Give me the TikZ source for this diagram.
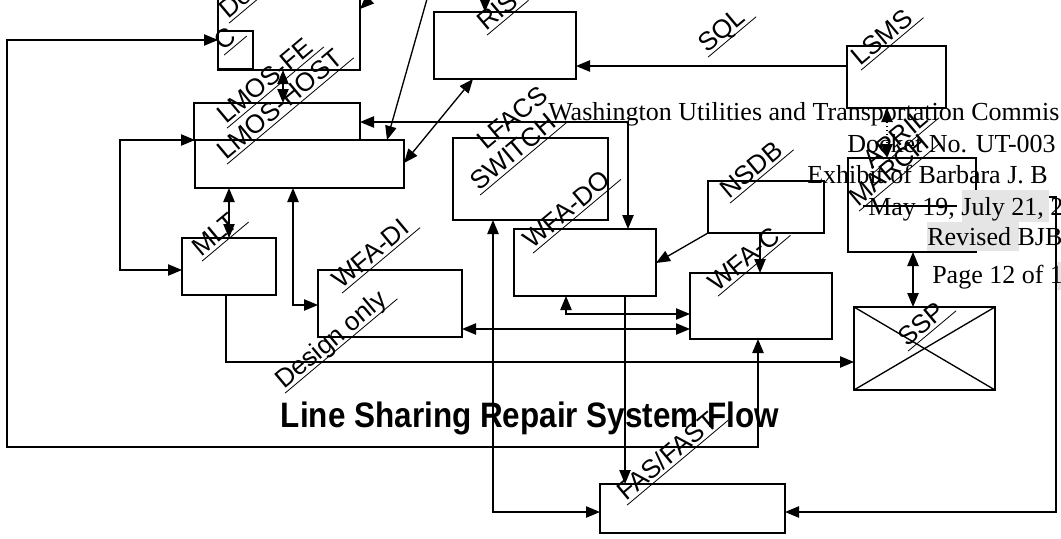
\documentclass[tikz,border=0pt]{standalone}
\usepackage{fontspec}
\usepackage{graphicx}
\setmainfont{Liberation Serif}
\setsansfont{Liberation Sans}
\usetikzlibrary{arrows.meta,fit}
\newcommand\ulbl[1]{\setbox0=\hbox{#1}\rlap{\kern-1pt\rule[-2.6pt]{\dimexpr\wd0+8pt\relax}{0.6pt}}\box0}
\tikzset{
 box/.style={draw, line width=1pt, inner sep=0pt, outer sep=0pt},
 ln/.style={line width=1pt},
 arr/.style={ln, -{Triangle[length=10.5pt,width=8.5pt]}},
 darr/.style={ln, {Triangle[length=10.5pt,width=8.5pt]}-{Triangle[length=10.5pt,width=8.5pt]}},
 lab/.style={font=\sffamily\fontsize{19.5}{22}\selectfont, rotate=40, anchor=base west, inner sep=0pt},
 hdr/.style={font=\fontsize{19.5}{23}\selectfont, anchor=base west, inner sep=0pt},
 hl/.style={fill=black!10},
}
\begin{document}
\begin{tikzpicture}[x=0.75pt,y=-0.75pt]
\useasboundingbox (0,0) rectangle (1061,539);
\clip (0,0) rectangle (1061,539);
% ---------- boxes ----------
\node[box, fit={(218,-40) (360,70)}] (top) {};
\node[box, fit={(218,31) (253,69)}] (cbox) {};
\node[box, fit={(194,103) (360,140)}] (lmosfe) {};
\node[box, fit={(195,140) (404,188)}] (lmoshost) {};
\node[box, fit={(434,12) (576,79)}] (ris) {};
\node[box, fit={(847,46) (946,108)}] (lsms) {};
\node[box, fit={(848,158) (976,252)}] (march) {};
\node[box, fit={(453,138) (608,220)}] (lfacs) {};
\node[box, fit={(182,238) (276,295)}] (mlt) {};
\node[box, fit={(318,270) (462,337)}] (wfadi) {};
\node[box, fit={(514,229) (656,296)}] (wfado) {};
\node[box, fit={(708,181) (824,233)}] (nsdb) {};
\node[box, fit={(690,273) (832,339)}] (wfac) {};
\node[box, fit={(854,307) (995,390)}] (ssp) {};
\node[box, fit={(600,484) (785,533)}] (fas) {};
\draw[ln] (ssp.north west) -- (ssp.south east) (ssp.south west) -- (ssp.north east);
% ---------- free ends ----------
\coordinate (o1) at (395,-25);
\coordinate (o2) at (431,-15);
\coordinate (o3) at (485,-12);
% ---------- connectors ----------
\draw[darr] (758,0 |- wfac.south) -- (758,447) -- (7,447) -- (7,40) -- (cbox.west |- 0,40);
\draw[darr] (283,0 |- top.south) -- (283,0 |- lmosfe.north);
\draw[arr] (o1) -- (top.east |- 0,9);
\draw[arr] (o2) -- (387,0 |- lmoshost.north);
\draw[arr] (o3) -- (485,0 |- ris.north);
\draw[arr] (lsms.west |- 0,66) -- (ris.east |- 0,66);
\draw[darr,dotted] (887,0 |- lsms.south) -- (887,0 |- march.north);
\draw[darr] (913,0 |- march.south) -- (913,0 |- ssp.north);
\draw[arr] (march.east |- 0,197) -- (1056,197) -- (1056,512) -- (fas.east |- 0,512);
\draw[darr] (lmosfe.east |- 0,122) -- (628,122) -- (628,0 |- wfado.north);
\draw[darr] (473,0 |- ris.south) -- (lmoshost.east |- 0,163);
\draw[darr] (lmoshost.west |- 0,140) -- (120,140) -- (120,270) -- (mlt.west |- 0,270);
\draw[darr] (229,0 |- lmoshost.south) -- (229,0 |- mlt.north);
\draw[darr] (293,0 |- lmoshost.south) -- (293,305) -- (wfadi.west |- 0,305);
\draw[arr] (226,0 |- mlt.south) -- (226,362) -- (ssp.west |- 0,362);
\draw[darr] (wfadi.east |- 0,329) -- (wfac.west |- 0,329);
\draw[darr] (566,0 |- wfado.south) -- (566,314) -- (wfac.west |- 0,314);
\draw[arr] (nsdb.south west) -- (wfado.east |- 0,263);
\draw[arr] (760,0 |- nsdb.south) -- (760,0 |- wfac.north);
\draw[arr] (625,0 |- wfado.south) -- (625,0 |- fas.north);
\draw[darr] (493,0 |- lfacs.south) -- (493,512) -- (fas.west |- 0,512);
% ---------- labels ----------
\node[lab] (lDo) at (228,20) {\ulbl{Do}};
\node[lab] (lC) at (223,52) {\ulbl{C}};
\node[lab] (lFE) at (226,125) {\ulbl{LMOS-FE}};
\node[lab] (lHOST) at (226,161) {\ulbl{LMOS-HOST}};
\node[lab] (lRIS) at (486,32) {\ulbl{RIS}};
\node[lab] (lSQL) at (707,54) {\ulbl{SQL}};
\node[lab] (lLSMS) at (860,67) {\ulbl{LSMS}};
\node[lab] (lAPRIL) at (872,170) {\ulbl{APRIL}};
\node[lab] (lMARCH) at (858,208) {\ulbl{MARCH}};
\node[lab] (lLFACS) at (486,151) {LFACS};
\node[lab] (lSW) at (479,192) {\ulbl{SWITCH}};
\node[lab] (lDO) at (532,250) {\ulbl{WFA-DO}};
\node[lab] (lNSDB) at (729,200) {\ulbl{NSDB}};
\node[lab] (lWC) at (717,293) {\ulbl{WFA-C}};
\node[lab] (lMLT) at (201,258) {\ulbl{MLT}};
\node[lab] (lDI) at (341,290) {\ulbl{WFA-DI}};
\node[lab] (lDes) at (284,390) {\ulbl{Design only}};
\node[lab] (lSSP) at (907,348) {\ulbl{SSP}};
\node[lab] (lFAS) at (626,502) {\ulbl{FAS/FAST}};
% ---------- title ----------
\node[font=\sffamily\bfseries\fontsize{26.5}{30}\selectfont, anchor=base, inner sep=0pt] (title) at (530,427) {\scalebox{0.89}[1]{Line Sharing Repair System Flow}};
% ---------- header text ----------
\fill[hl] (962,190) rectangle (1049,222);
\fill[hl] (927,222) rectangle (1019,251);
\fill[hl] (1057,262) rectangle (1061,290);
\draw[line width=0.8pt] (863,206) -- (957,206);
\node[hdr] (h1) at (548,120) {Washington Utilities and Transportation Commis};
\node[hdr] (h2) at (847,152) {Docket No. UT-003};
\node[hdr] (h3) at (807,183) {Exhibit of Barbara J. B};
\node[hdr] (h4) at (868,215) {May 19, July 21, 2};
\node[hdr] (h5) at (927,245) {Revised BJB};
\node[hdr] (h6) at (932,283) {Page 12 of 1};
\end{tikzpicture}
\end{document}
